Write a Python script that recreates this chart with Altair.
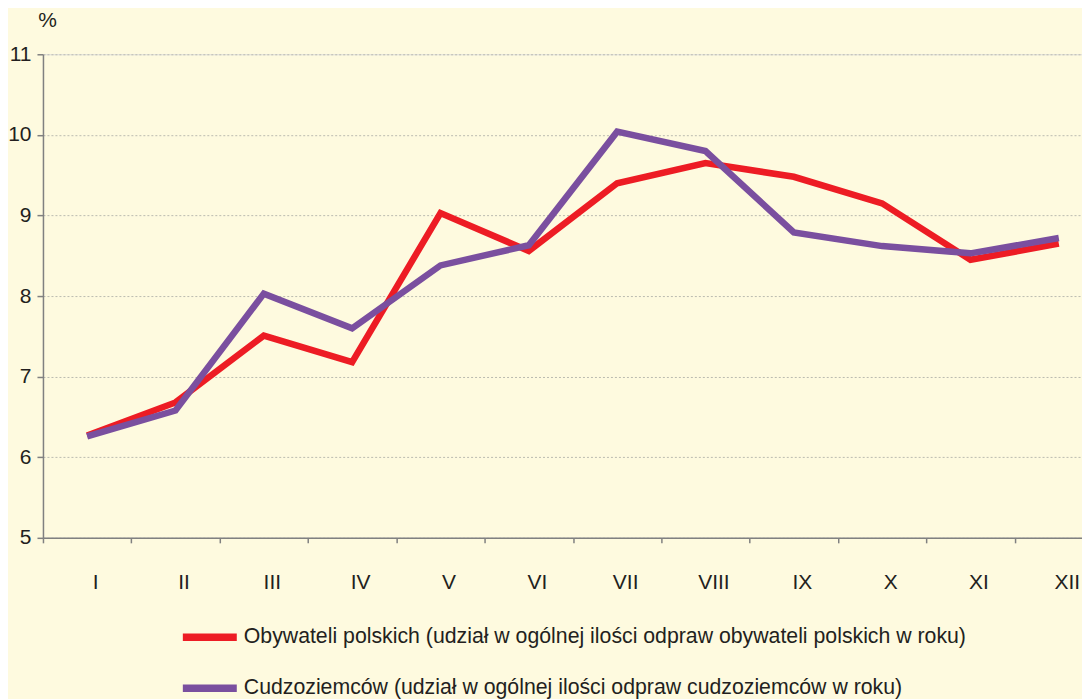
import altair as alt
import pandas as pd

months = ["I", "II", "III", "IV", "V", "VI", "VII", "VIII", "IX", "X", "XI", "XII"]
polish = [6.27, 6.68, 7.51, 7.18, 9.03, 8.56, 9.40, 9.65, 9.48, 9.15, 8.45, 8.65]
foreign = [6.26, 6.58, 8.03, 7.60, 8.38, 8.63, 10.04, 9.80, 8.79, 8.62, 8.53, 8.72]

name_pl = "Obywateli polskich (udział w ogólnej ilości odpraw obywateli polskich w roku)"
name_fr = "Cudzoziemców (udział w ogólnej ilości odpraw cudzoziemców w roku)"

rows = []
for m, a, b in zip(months, polish, foreign):
    rows.append({"m": m, "v": a, "s": name_pl})
    rows.append({"m": m, "v": b, "s": name_fr})
df = pd.DataFrame(rows)

FONT = "Liberation Sans"
TXT = "#231F20"
FS = 21

chart = alt.Chart(df).mark_line(strokeWidth=6.5, strokeJoin="miter").encode(
    x=alt.X("m:O", sort=months, bandPosition=0.5,
            scale=alt.Scale(type="band", paddingInner=0, paddingOuter=0, range=[0, 1061]),
            axis=alt.Axis(title=None, labelAngle=0, tickBand="extent", grid=False,
                          labelBaseline="middle", labelPadding=40, labelOffset=8,
                          tickSize=5, labelFontSize=FS,
                          labelColor=TXT, domainColor="#808080", tickColor="#808080",
                          domainWidth=1.5, tickWidth=1.5)),
    y=alt.Y("v:Q", scale=alt.Scale(domain=[5, 11], nice=False, zero=False),
            axis=alt.Axis(title="%", titleAngle=0, titleX=4, titleY=-34, titleAlign="center",
                          titleBaseline="middle", titleFontSize=FS, titleFontWeight="normal",
                          titleColor=TXT, values=[5, 6, 7, 8, 9, 10, 11],
                          labelFontSize=FS, labelColor=TXT, tickSize=6, labelPadding=6,
                          domainColor="#808080", tickColor="#808080", domainWidth=1.5,
                          tickWidth=1.5, grid=True, gridColor="#BBBBB0", gridDash=[2, 2],
                          gridWidth=1)),
    color=alt.Color("s:N", sort=[name_pl, name_fr],
                    scale=alt.Scale(domain=[name_pl, name_fr], range=["#ED1C24", "#7A4F9F"]),
                    legend=alt.Legend(title=None, orient="none", legendX=136, legendY=573,
                                      direction="vertical", symbolType="stroke",
                                      symbolSize=2916, symbolStrokeWidth=7.5, clipHeight=21,
                                      rowPadding=29, labelFontSize=21.3, labelColor=TXT,
                                      labelOffset=3, labelLimit=1000)),
).properties(
    width=1040, height=484,
    autosize=alt.AutoSizeParams(type="none"),
    padding={"left": 35, "top": 46, "right": 0, "bottom": 161},
    background="#FEFADF",
).configure_view(stroke=None).configure(font=FONT)

chart.save("out.html", embed_options={"renderer": "svg", "actions": False})
